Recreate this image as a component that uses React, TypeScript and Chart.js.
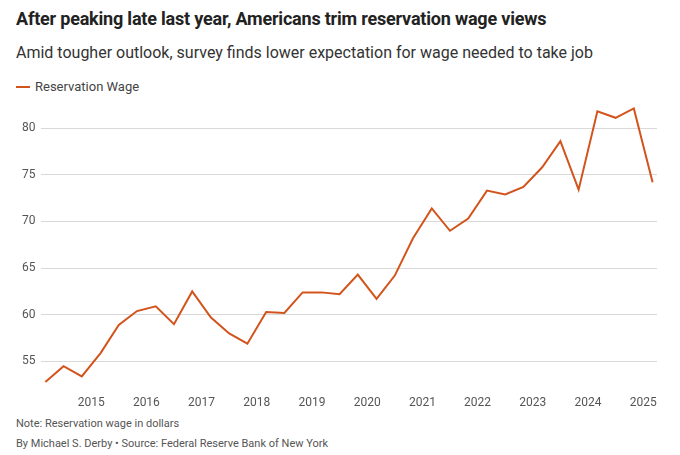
import React, { useEffect, useRef } from "react";
import { Chart, registerables } from "chart.js";
Chart.register(...registerables);

const dates = [2014.17,2014.5,2014.83,2015.17,2015.5,2015.83,2016.17,2016.5,2016.83,2017.17,2017.5,2017.83,2018.17,2018.5,2018.83,2019.17,2019.5,2019.83,2020.17,2020.5,2020.83,2021.17,2021.5,2021.83,2022.17,2022.5,2022.83,2023.17,2023.5,2023.83,2024.17,2024.5,2024.83,2025.17];
const wages = [52.8,54.5,53.4,55.9,58.9,60.4,60.9,59.0,62.5,59.7,58.0,56.9,60.3,60.2,62.4,62.4,62.2,64.3,61.7,64.2,68.2,71.4,69.0,70.3,73.3,72.9,73.7,75.8,78.6,73.4,81.8,81.1,82.1,74.2];
const yearTicks = [2015,2016,2017,2018,2019,2020,2021,2022,2023,2024,2025];
const yTicks = [55,60,65,70,75,80];

const FONT = "Roboto, 'Noto Sans', sans-serif";
const ORANGE = "#d2541c";

export default function App() {
  const ref = useRef<HTMLCanvasElement>(null);
  useEffect(() => {
    const chart = new Chart(ref.current!, {
      type: "line",
      data: {
        datasets: [{
          label: "Reservation Wage",
          data: dates.map((d, i) => ({ x: d, y: wages[i] })),
          borderColor: ORANGE, borderWidth: 2, pointRadius: 0, tension: 0,
        }],
      },
      options: {
        animation: false, responsive: false, maintainAspectRatio: false,
        layout: { padding: { left: 0, right: 23, top: 0, bottom: 4 } },
        plugins: { legend: { display: false }, tooltip: { enabled: false } },
        scales: {
          x: {
            type: "linear", min: 2014.1, max: 2025.25,
            grid: { display: false }, border: { display: false },
            afterBuildTicks: (s: any) => { s.ticks = yearTicks.map(v => ({ value: v })); },
            ticks: { color: "#555", font: { family: FONT, size: 12 }, maxRotation: 0, padding: 0, callback: (v: any) => String(v) },
          },
          y: {
            min: 52.2, max: 83.2,
            afterBuildTicks: (s: any) => { s.ticks = yTicks.map(v => ({ value: v })); },
            grid: { color: "#d9d9d9", drawTicks: false }, border: { display: false },
            ticks: { color: "#555", font: { family: FONT, size: 12 }, padding: 6 },
          },
        },
      },
    });
    return () => chart.destroy();
  }, []);
  return (
    <div style={{ position: "fixed", left: 0, top: 0, width: 680, height: 455, background: "#fff", fontFamily: FONT }}>
      <div style={{ position: "absolute", left: 16, top: 8, fontSize: 18, fontWeight: 700, color: "#222", letterSpacing: -0.2 }}>After peaking late last year, Americans trim reservation wage views</div>
      <div style={{ position: "absolute", left: 16, top: 43, fontSize: 16, color: "#333" }}>Amid tougher outlook, survey finds lower expectation for wage needed to take job</div>
      <div style={{ position: "absolute", left: 16, top: 79, fontSize: 13, color: "#444", display: "flex", alignItems: "center" }}>
        <span style={{ display: "inline-block", width: 14, height: 2, background: ORANGE, marginRight: 5 }} />Reservation Wage
      </div>
      <canvas ref={ref} width={664} height={329} style={{ position: "absolute", left: 16, top: 85, width: 664, height: 329 }} />
      <div style={{ position: "absolute", left: 16, top: 417, fontSize: 11, color: "#555" }}>Note: Reservation wage in dollars</div>
      <div style={{ position: "absolute", left: 16, top: 437, fontSize: 11, color: "#555" }}>By Michael S. Derby • Source: Federal Reserve Bank of New York</div>
    </div>
  );
}
